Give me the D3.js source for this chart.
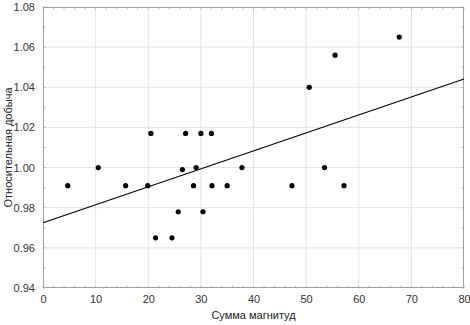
<!DOCTYPE html>
<html>
<head>
<meta charset="utf-8">
<script src="https://cdn.jsdelivr.net/npm/d3@7"></script>
<style>
  body { margin: 0; background: #fff; }
  svg { display: block; font-family: "Liberation Sans", Arial, sans-serif; }
</style>
</head>
<body>
<div id="chart"></div>
<script>
// Scatter: Сумма магнитуд vs Относительная добыча, with a least-squares line
const magnitudeSum = [4.7, 10.5, 15.7, 19.9, 20.5, 21.4, 24.5, 25.7, 26.5, 27.1, 28.6, 29.1,
    30.0, 30.4, 32.0, 32.1, 35.0, 37.8, 47.3, 50.6, 53.5, 55.5, 57.2, 67.7];
const relativeYield = [0.991, 1.000, 0.991, 0.991, 1.017, 0.965, 0.965, 0.978, 0.999, 1.017, 0.991, 1.000,
    1.017, 0.978, 1.017, 0.991, 0.991, 1.000, 0.991, 1.040, 1.000, 1.056, 0.991, 1.065];
const xTicks = [0, 10, 20, 30, 40, 50, 60, 70, 80];
const yTicks = [0.94, 0.96, 0.98, 1.00, 1.02, 1.04, 1.06, 1.08];

const data = magnitudeSum.map((x, i) => ({ x: x, y: relativeYield[i] }));

const width = 470, height = 325;
const margin = { top: 7, right: 6, bottom: 37, left: 43 };

const svg = d3.select("#chart")
    .append("svg")
    .attr("width", width)
    .attr("height", height);

const x = d3.scaleLinear()
    .domain([0, 80])
    .range([margin.left, width - margin.right]);

const y = d3.scaleLinear()
    .domain([0.94, 1.08])
    .range([height - margin.bottom, margin.top]);

// grid lines
svg.append("g")
    .selectAll("line.gx")
    .data(xTicks.slice(1, -1))
    .join("line")
    .attr("x1", (d) => x(d)).attr("x2", (d) => x(d))
    .attr("y1", margin.top).attr("y2", height - margin.bottom)
    .attr("stroke", "#e4e4e4");

svg.append("g")
    .selectAll("line.gy")
    .data(yTicks.slice(1, -1))
    .join("line")
    .attr("x1", margin.left).attr("x2", width - margin.right)
    .attr("y1", (d) => y(d)).attr("y2", (d) => y(d))
    .attr("stroke", "#e4e4e4");

// minor ticks inside the frame on all four sides
const xMinor = d3.range(0, 80.01, 2);
const yMinor = d3.range(0.94, 1.0801, 0.01);
const tickG = svg.append("g").attr("stroke", "#bbb");
xMinor.forEach((v) => {
    tickG.append("line").attr("x1", x(v)).attr("x2", x(v))
        .attr("y1", y(0.94)).attr("y2", y(0.94) - 2.5);
    tickG.append("line").attr("x1", x(v)).attr("x2", x(v))
        .attr("y1", y(1.08)).attr("y2", y(1.08) + 2.5);
});
yMinor.forEach((v) => {
    tickG.append("line").attr("x1", x(0)).attr("x2", x(0) + 2.5)
        .attr("y1", y(v)).attr("y2", y(v));
    tickG.append("line").attr("x1", x(80)).attr("x2", x(80) - 2.5)
        .attr("y1", y(v)).attr("y2", y(v));
});

// frame
svg.append("rect")
    .attr("x", margin.left + 0.5)
    .attr("y", margin.top + 0.5)
    .attr("width", width - margin.left - margin.right - 1)
    .attr("height", height - margin.top - margin.bottom - 1)
    .attr("fill", "none")
    .attr("stroke", "#a0a0a0");

const xAxis = d3.axisBottom(x).tickValues(xTicks).tickSize(0).tickPadding(7)
    .tickFormat(d3.format("d"));
const yAxis = d3.axisLeft(y).tickValues(yTicks).tickSize(0).tickPadding(8)
    .tickFormat(d3.format(".2f"));

const gx = svg.append("g")
    .attr("transform", `translate(0,${height - margin.bottom})`)
    .call(xAxis);
const gy = svg.append("g")
    .attr("transform", `translate(${margin.left},0)`)
    .call(yAxis);

[gx, gy].forEach((g) => {
    g.select(".domain").remove();
    g.selectAll("text")
        .attr("font-family", "\"Liberation Sans\", Arial, sans-serif")
        .attr("font-size", "11px")
        .attr("fill", "#333");
});

svg.append("text")
    .attr("x", x(40))
    .attr("y", height - 6)
    .attr("text-anchor", "middle")
    .attr("font-size", "11px")
    .attr("fill", "#222")
    .text("Сумма магнитуд");

svg.append("text")
    .attr("transform", "rotate(-90)")
    .attr("x", -y(1.01))
    .attr("y", 12)
    .attr("text-anchor", "middle")
    .attr("font-size", "11px")
    .attr("fill", "#222")
    .text("Относительная добыча");

// least-squares fit line
const mx = d3.mean(data, (d) => d.x);
const my = d3.mean(data, (d) => d.y);
const slope = d3.sum(data, (d) => (d.x - mx) * (d.y - my)) / d3.sum(data, (d) => (d.x - mx) ** 2);
const intercept = my - slope * mx;

svg.append("line")
    .attr("x1", x(0)).attr("y1", y(intercept))
    .attr("x2", x(80)).attr("y2", y(intercept + slope * 80))
    .attr("stroke", "#000")
    .attr("stroke-width", 1.2);

svg.selectAll("circle")
    .data(data)
    .join("circle")
    .attr("cx", (d) => x(d.x))
    .attr("cy", (d) => y(d.y))
    .attr("r", 2.6)
    .attr("fill", "#000");
</script>
</body>
</html>
